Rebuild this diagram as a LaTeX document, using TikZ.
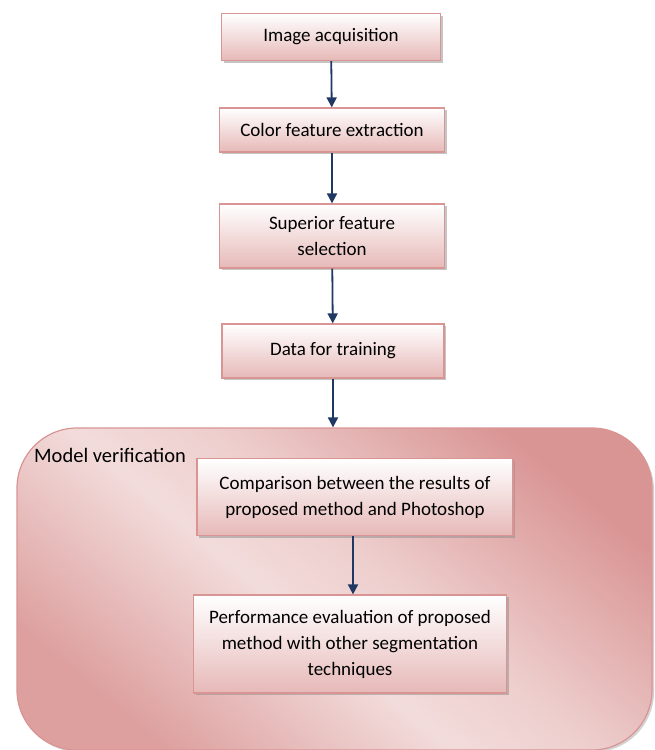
\documentclass[tikz,border=0pt]{standalone}
\usepackage{fontspec}
\setmainfont{Carlito}
\usetikzlibrary{shadows,arrows.meta}
\definecolor{boxline}{HTML}{D99594}
\definecolor{boxfill}{HTML}{E6B9B8}
\definecolor{arrowblue}{HTML}{1F3864}
\definecolor{panellight}{HTML}{F2DCDB}
\definecolor{paneldark}{HTML}{D99594}
\pgfdeclareverticalshading{panelshade}{100bp}{
  color(0bp)=(paneldark!85!panellight); color(25bp)=(paneldark!85!panellight);
  color(45bp)=(panellight); color(55bp)=(panellight!80!paneldark);
  color(75bp)=(paneldark); color(100bp)=(paneldark)}
\tikzset{
  stepbox/.style={draw=boxline, line width=1.2pt, top color=white, bottom color=boxfill,
    align=center, inner sep=4pt, font=\fontsize{19}{26}\selectfont,
    drop shadow={shadow xshift=2pt, shadow yshift=-2pt, fill=black!45}},
  flow/.style={->, >={Triangle[length=10pt, width=10pt]}, draw=arrowblue, line width=1.8pt}
}
\begin{document}
\begin{tikzpicture}[x=1pt, y=-1pt]
\useasboundingbox (0,0) rectangle (654,750);
% outer panel
\node[draw=boxline, line width=1.2pt, rounded corners=60pt, shading=panelshade, shading angle=-40,
  minimum width=635pt, minimum height=322pt, inner sep=0pt,
  drop shadow={shadow xshift=2pt, shadow yshift=-2pt, fill=black!35}] (panel) at (334.5,589) {};
\node[anchor=west, inner sep=0pt, font=\fontsize{20.5}{26}\selectfont] (label) at (34,455) {Model verification};
% steps
\node[stepbox, minimum width=219pt, minimum height=47pt] (a) at (331,37) {Image acquisition};
\node[stepbox, minimum width=225pt, minimum height=44pt] (b) at (332,130) {Color feature extraction};
\node[stepbox, minimum width=225pt, minimum height=64pt] (c) at (332,236) {Superior feature\\selection};
\node[stepbox, minimum width=222pt, minimum height=54pt] (d) at (333,351) {Data for training};
\node[stepbox, minimum width=316pt, minimum height=77pt] (e) at (355,497) {Comparison between the results of\\proposed method and Photoshop};
\node[stepbox, minimum width=313pt, minimum height=98pt] (f) at (350,644) {Performance evaluation of proposed\\method with other segmentation\\techniques};
\draw[flow] (a) -- (b);
\draw[flow] (b) -- (c);
\draw[flow] (c) -- (d);
\draw[flow] (d.south) -- (d.south |- panel.north);
\draw[flow] (e.south) ++(-2,0) -- (f.north -| 353,0);
\end{tikzpicture}
\end{document}
